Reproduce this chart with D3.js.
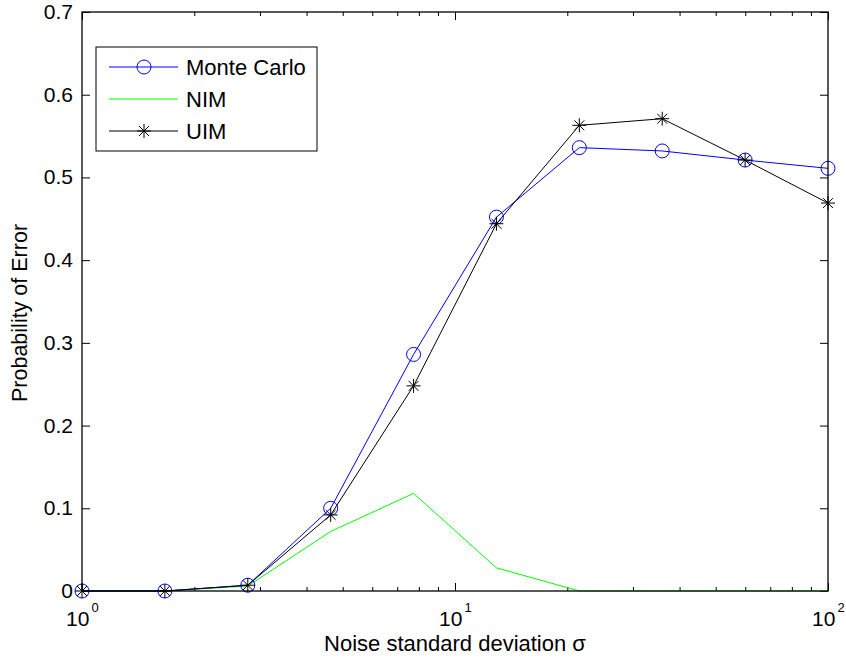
<!DOCTYPE html>
<html>
<head>
<meta charset="utf-8">
<script src="https://cdn.jsdelivr.net/npm/d3@7"></script>
<style>
  html, body { margin: 0; padding: 0; background: #fff; }
  svg { display: block; font-family: "Liberation Sans", Arial, Helvetica, sans-serif; }
</style>
</head>
<body>
<svg id="chart" width="846" height="660"></svg>
<script>
// Noise levels (log-spaced from 1 to 100)
const sigma = [1, 1.668, 2.783, 4.642, 7.743, 12.915, 21.544, 35.938, 59.948, 100];

// Probability of error for each method
const monteCarlo = [0, 0, 0.007, 0.100, 0.286, 0.452, 0.536, 0.532, 0.521, 0.511];
const nim        = [0, 0, 0.006, 0.072, 0.118, 0.028, 0, 0, 0, 0];
const uim        = [0, 0, 0.007, 0.092, 0.248, 0.444, 0.563, 0.571, 0.521, 0.469];

const yTicks = [0, 0.1, 0.2, 0.3, 0.4, 0.5, 0.6, 0.7];
const xMajor = [1, 10, 100];
const xExp = ["0", "1", "2"];

const svg = d3.select("#chart");
const L = 82, R = 828, T = 12, B = 591;

const x = d3.scaleLog().domain([1, 100]).range([L, R]);
const y = d3.scaleLinear().domain([0, 0.7]).range([B, T]);

const g = svg.append("g");

// minor and major x ticks (bottom and top, pointing inward)
const minor = [];
for (let d = 1; d < 100; d *= 10) for (let k = 2; k <= 9; k++) minor.push(d * k);

g.append("g").attr("transform", `translate(0,${B})`)
  .call(d3.axisBottom(x).tickValues(minor).tickSize(-4).tickFormat(""))
  .call(a => a.select(".domain").remove());
g.append("g").attr("transform", `translate(0,${T})`)
  .call(d3.axisTop(x).tickValues(minor).tickSize(-4).tickFormat(""))
  .call(a => a.select(".domain").remove());
g.append("g").attr("transform", `translate(0,${B})`)
  .call(d3.axisBottom(x).tickValues(xMajor).tickSize(-8).tickFormat(""))
  .call(a => a.select(".domain").remove());
g.append("g").attr("transform", `translate(0,${T})`)
  .call(d3.axisTop(x).tickValues(xMajor).tickSize(-8).tickFormat(""))
  .call(a => a.select(".domain").remove());

// y ticks left and right
g.append("g").attr("transform", `translate(${L},0)`)
  .call(d3.axisLeft(y).tickValues(yTicks).tickSize(-8).tickFormat(""))
  .call(a => a.select(".domain").remove());
g.append("g").attr("transform", `translate(${R},0)`)
  .call(d3.axisRight(y).tickValues(yTicks).tickSize(-8).tickFormat(""))
  .call(a => a.select(".domain").remove());

g.selectAll(".tick line").attr("stroke", "#000").attr("stroke-width", 1);

// y tick labels
g.selectAll(".ylab").data(yTicks).enter().append("text")
  .attr("x", L - 9).attr("y", d => y(d) + 7)
  .attr("text-anchor", "end").attr("font-size", 21)
  .text(d => d === 0 ? "0" : d3.format(".1f")(d));

// x tick labels: 10 with superscript exponent
const xl = g.selectAll(".xlab").data(xMajor).enter().append("g")
  .attr("transform", d => `translate(${x(d)},0)`);
xl.append("text").attr("x", -16).attr("y", 626)
  .attr("font-size", 21).text("10");
xl.append("text").attr("x", 9.5).attr("y", 612).attr("font-size", 13)
  .text((d, i) => xExp[i]);

// axis titles
svg.append("text").attr("x", 455).attr("y", 651).attr("text-anchor", "middle")
  .attr("font-size", 22).text("Noise standard deviation σ");
svg.append("text").attr("transform", "translate(27,402) rotate(-90)")
  .attr("text-anchor", "start").attr("font-size", 21.5).text("Probability of Error");

// data lines
const line = vals => d3.line().x((d, i) => x(sigma[i])).y(d => y(d))(vals);

const plot = svg.append("g");
plot.append("path").attr("d", line(nim)).attr("fill", "none")
  .attr("stroke", "#00ff00").attr("stroke-width", 1);
plot.append("path").attr("d", line(monteCarlo)).attr("fill", "none")
  .attr("stroke", "#0000ff").attr("stroke-width", 1);
plot.append("path").attr("d", line(uim)).attr("fill", "none")
  .attr("stroke", "#000").attr("stroke-width", 1);

// asterisk marker path centred at 0,0
function star(s) {
  const d = s * 0.7071;
  return `M${-s},0L${s},0M0,${-s}L0,${s}M${-d},${-d}L${d},${d}M${-d},${d}L${d},${-d}`;
}

plot.selectAll(".mc").data(monteCarlo).enter().append("circle")
  .attr("cx", (d, i) => x(sigma[i])).attr("cy", d => y(d)).attr("r", 7)
  .attr("fill", "none").attr("stroke", "#0000ff").attr("stroke-width", 1);
plot.selectAll(".ui").data(uim).enter().append("path")
  .attr("transform", (d, i) => `translate(${x(sigma[i])},${y(d)})`)
  .attr("d", star(7)).attr("fill", "none").attr("stroke", "#000").attr("stroke-width", 1);

// plot box
svg.append("rect").attr("x", L).attr("y", T).attr("width", R - L).attr("height", B - T)
  .attr("fill", "none").attr("stroke", "#000").attr("stroke-width", 1.3);

// legend
const leg = svg.append("g");
leg.append("rect").attr("x", 96).attr("y", 47).attr("width", 221).attr("height", 104)
  .attr("fill", "#fff").attr("stroke", "#000").attr("stroke-width", 1);
const items = [
  { name: "Monte Carlo", color: "#0000ff", mark: "circle", yy: 67 },
  { name: "NIM", color: "#00ff00", mark: null, yy: 99 },
  { name: "UIM", color: "#000", mark: "star", yy: 131 }
];
items.forEach(it => {
  leg.append("line").attr("x1", 109).attr("x2", 178).attr("y1", it.yy).attr("y2", it.yy)
    .attr("stroke", it.color).attr("stroke-width", 1);
  if (it.mark === "circle") {
    leg.append("circle").attr("cx", 144).attr("cy", it.yy).attr("r", 7)
      .attr("fill", "none").attr("stroke", it.color);
  } else if (it.mark === "star") {
    leg.append("path").attr("transform", `translate(144,${it.yy})`).attr("d", star(7))
      .attr("fill", "none").attr("stroke", it.color);
  }
  leg.append("text").attr("x", 186).attr("y", it.yy + 7.5).attr("font-size", 22).text(it.name);
});
</script>
</body>
</html>
